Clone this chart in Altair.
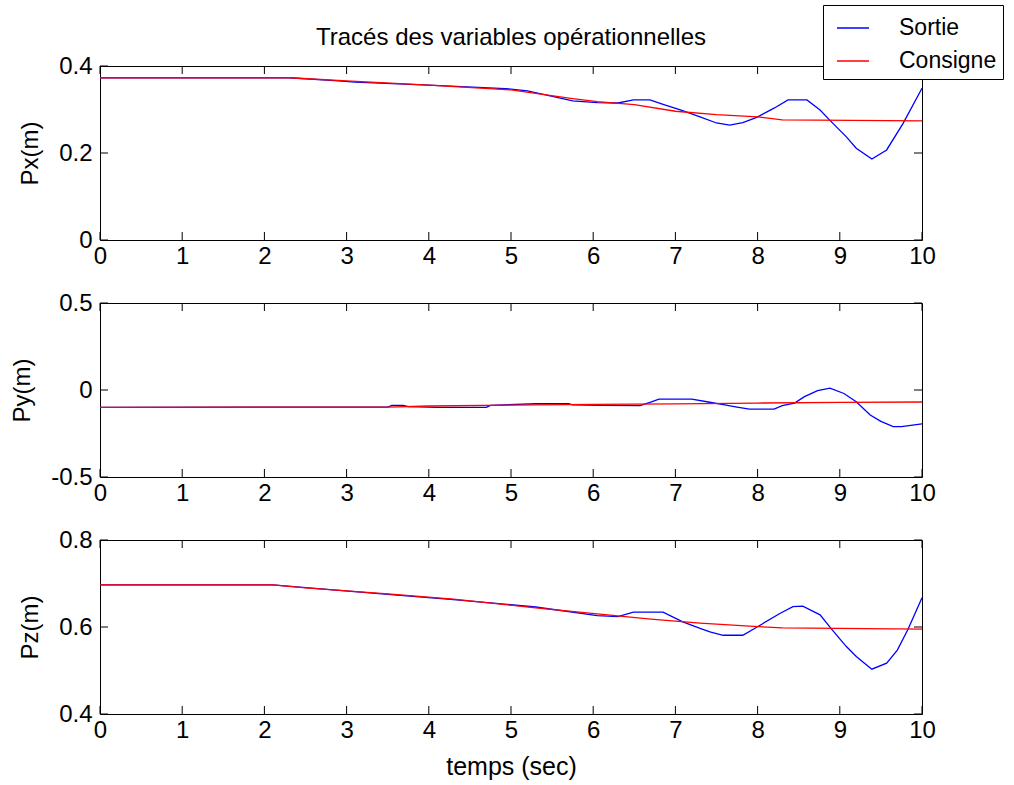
import altair as alt
import pandas as pd

FONT = "Liberation Sans"

# ---- time axis ticks ----
x_ticks = [0, 1, 2, 3, 4, 5, 6, 7, 8, 9, 10]

# ---- Panel 1 : Px(m) ----
px_cons_t = [0, 2.3, 3, 4, 5, 5.75, 6.05, 6.5, 7.0, 7.5, 8.0, 8.3, 10]
px_cons_v = [0.373, 0.373, 0.366, 0.356, 0.345, 0.325, 0.318, 0.311, 0.296, 0.288, 0.283, 0.276, 0.274]
px_sort_t = [0, 2.3, 2.9, 3.1, 4, 4.8, 5.0, 5.2, 5.75, 6.05, 6.3, 6.49, 6.69, 6.85, 7.06, 7.3, 7.5,
             7.66, 7.82, 7.99, 8.2, 8.37, 8.6, 8.76, 8.88, 9.08, 9.2, 9.39, 9.57, 9.77, 10]
px_sort_v = [0.373, 0.373, 0.366, 0.363, 0.356, 0.349, 0.347, 0.343, 0.320, 0.316, 0.315, 0.322, 0.322,
             0.312, 0.299, 0.283, 0.269, 0.264, 0.270, 0.282, 0.303, 0.322, 0.322, 0.299, 0.275, 0.237,
             0.211, 0.186, 0.207, 0.268, 0.349]
px_ticks = [0, 0.2, 0.4]

# ---- Panel 2 : Py(m) ----
py_cons_t = [0, 3.5, 4, 5, 6, 7, 8, 9, 10]
py_cons_v = [-0.100, -0.098, -0.092, -0.087, -0.083, -0.080, -0.075, -0.071, -0.069]
py_sort_t = [0, 3.5, 3.55, 3.69, 3.75, 4.1, 4.7, 4.75, 5.3, 5.7, 5.75, 6.1, 6.57, 6.7, 6.8, 7.2, 7.4,
             7.6, 7.75, 7.9, 8.2, 8.3, 8.45, 8.57, 8.73, 8.88, 9.05, 9.2, 9.37, 9.5, 9.65, 9.75, 10]
py_sort_v = [-0.100, -0.098, -0.088, -0.088, -0.095, -0.100, -0.100, -0.088, -0.079, -0.079, -0.086,
             -0.088, -0.090, -0.070, -0.052, -0.052, -0.069, -0.086, -0.098, -0.110, -0.110, -0.090,
             -0.075, -0.038, -0.004, 0.011, -0.020, -0.067, -0.144, -0.180, -0.210, -0.210, -0.195]
py_ticks = [-0.5, 0, 0.5]

# ---- Panel 3 : Pz(m) ----
pz_cons_t = [0, 2.1, 2.5, 3.5, 4.3, 5.3, 6.05, 6.7, 7.3, 7.9, 8.3, 10]
pz_cons_v = [0.697, 0.697, 0.690, 0.676, 0.664, 0.644, 0.630, 0.618, 0.609, 0.602, 0.598, 0.595]
pz_sort_t = [0, 1.1, 1.3, 2.1, 3.5, 4.3, 5.3, 6.05, 6.3, 6.49, 6.85, 7.09, 7.3, 7.42, 7.58, 7.82, 8.03,
             8.27, 8.43, 8.55, 8.76, 8.9, 9.08, 9.2, 9.39, 9.57, 9.7, 9.83, 10]
pz_sort_v = [0.697, 0.697, 0.697, 0.697, 0.675, 0.663, 0.646, 0.626, 0.624, 0.634, 0.634, 0.612, 0.597,
             0.589, 0.581, 0.581, 0.604, 0.631, 0.647, 0.648, 0.628, 0.595, 0.555, 0.532, 0.503, 0.517,
             0.547, 0.595, 0.667]
pz_ticks = [0.4, 0.6, 0.8]

series_names = ["Sortie", "Consigne"]
series_colors = ["#0000ff", "#ff0000"]

W, H = 822, 174
TICK = 8
GAP = 63

color_scale = alt.Scale(domain=series_names, range=series_colors)


def make_df(t, v, name):
    return pd.DataFrame({"t": t, "v": v, "serie": name})


def panel(st, sv, ct, cv, yticks, ytitle, xtitle, title=None):
    xscale = alt.Scale(domain=[0, 10], nice=False, zero=False)
    yscale = alt.Scale(domain=[yticks[0], yticks[-1]], nice=False, zero=False)
    xaxis = alt.Axis(values=x_ticks, labelExpr="'' + datum.value")
    yaxis = alt.Axis(values=yticks, labelExpr="'' + datum.value")

    def X():
        return alt.X("t:Q", scale=xscale, axis=xaxis, title=xtitle)

    def Y():
        return alt.Y("v:Q", scale=yscale, axis=yaxis, title=ytitle)

    col = alt.Color("serie:N", scale=color_scale, title=None)

    sortie = alt.Chart(make_df(st, sv, "Sortie")).mark_line(strokeWidth=1.3).encode(
        x=X(), y=Y(), color=col, order=alt.Order("t:Q"))
    consigne = alt.Chart(make_df(ct, cv, "Consigne")).mark_line(strokeWidth=1.3).encode(
        x=X(), y=Y(), color=col, order=alt.Order("t:Q"))

    xt = pd.DataFrame({"t": x_ticks})
    yt = pd.DataFrame({"v": yticks})
    tick_top = alt.Chart(xt).mark_rule(color="black", strokeWidth=1).encode(
        x=X(), y=alt.value(0), y2=alt.value(TICK))
    tick_bot = alt.Chart(xt).mark_rule(color="black", strokeWidth=1).encode(
        x=X(), y=alt.value(H), y2=alt.value(H - TICK))
    tick_left = alt.Chart(yt).mark_rule(color="black", strokeWidth=1).encode(
        y=Y(), x=alt.value(0), x2=alt.value(TICK))
    tick_right = alt.Chart(yt).mark_rule(color="black", strokeWidth=1).encode(
        y=Y(), x=alt.value(W), x2=alt.value(W - TICK))

    layer = alt.layer(sortie, consigne, tick_top, tick_bot, tick_left, tick_right)
    if title is not None:
        layer = layer.properties(width=W, height=H, title=alt.TitleParams(title, anchor="middle", offset=4))
    else:
        layer = layer.properties(width=W, height=H)
    return layer


p1 = panel(px_sort_t, px_sort_v, px_cons_t, px_cons_v, px_ticks, "Px(m)", None,
           title="Tracés des variables opérationnelles")
p2 = panel(py_sort_t, py_sort_v, py_cons_t, py_cons_v, py_ticks, "Py(m)", None)
p3 = panel(pz_sort_t, pz_sort_v, pz_cons_t, pz_cons_v, pz_ticks, "Pz(m)", "temps (sec)")

LEFT, TOP = 100, 66

chart = alt.vconcat(p1, p2, p3, spacing=GAP, bounds="flush").properties(
    autosize="none",
    padding={"left": LEFT, "top": TOP, "right": 1014 - LEFT - W, "bottom": 785 - TOP},
).configure_view(
    stroke="black", strokeWidth=1
).configure_axis(
    domain=False, ticks=False, grid=False,
    labelFont=FONT, labelFontSize=24, labelColor="black", labelFlush=False,
    titleFont=FONT, titleFontSize=24, titleFontWeight="normal", titleColor="black",
).configure_axisX(
    labelPadding=4, titlePadding=12, titleFontSize=25
).configure_axisY(
    labelPadding=8, titlePadding=16
).configure_title(
    font=FONT, fontSize=24, fontWeight="normal", color="black"
).configure_legend(
    orient="none", legendX=723, legendY=-61,
    fillColor="white", strokeColor="black", padding=6,
    symbolType="stroke", symbolSize=1024, symbolStrokeWidth=1.5, symbolOffset=7,
    labelFont=FONT, labelFontSize=23, labelColor="black", labelOffset=29,
    rowPadding=4,
)

chart.save("out.html", embed_options={"renderer": "svg", "actions": False})
